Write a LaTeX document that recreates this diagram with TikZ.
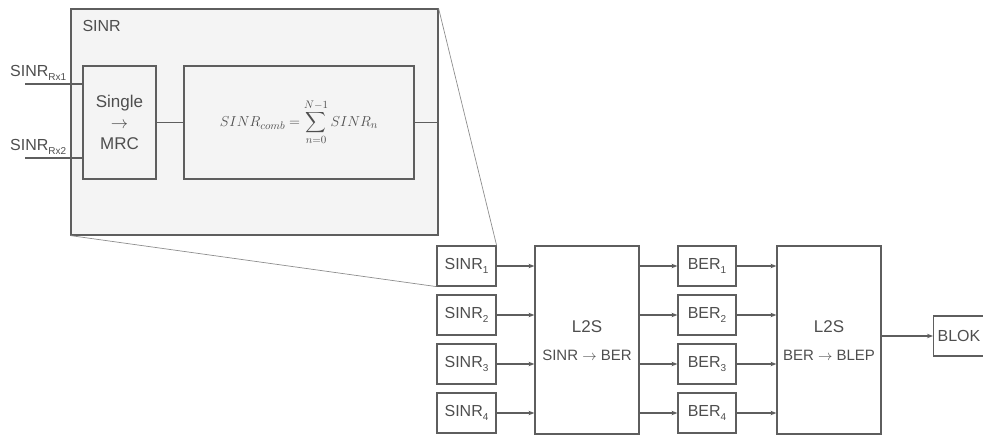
\documentclass[tikz,border=0pt]{standalone}
\usepackage{amsmath}
\usepackage[no-math]{fontspec}
\setmainfont{Liberation Sans}
\usetikzlibrary{arrows.meta}
\definecolor{ln}{HTML}{5E5E5E}
\definecolor{tx}{HTML}{4E4E4E}
\definecolor{bg}{HTML}{F4F4F4}
\newcommand\lsub[1]{\raisebox{-3.5pt}{\fontsize{10}{10}\selectfont #1}}
\begin{document}
\begin{tikzpicture}[x=1pt,y=-1pt,
  every node/.style={text=tx, font=\fontsize{16}{19}\selectfont},
  box/.style={draw=ln, line width=1.2pt, inner sep=0pt, align=center},
  small/.style={box, minimum height=40pt},
  wire/.style={draw=ln, line width=1.2pt},
  arr/.style={wire, -{Stealth[length=6pt,width=4.5pt]}},
  zoomline/.style={draw=ln!70, line width=0.7pt}]
\useasboundingbox (0,0) rectangle (983,435);
\clip (0,0) rectangle (983,435);
% zoomed SINR block
\node[box, fill=bg, minimum width=367pt, minimum height=226pt] (sinr) at (254.5,122) {};
\node[anchor=base west] (title) at (79,32) {SINR};
\node[box, fill=bg, minimum width=73pt, minimum height=113pt, font=\fontsize{17}{21}\selectfont] (mrc) at (119.5,122.5) {Single\\$\rightarrow$\\MRC};
\node[box, fill=bg, minimum width=230pt, minimum height=113pt, font=\fontsize{15}{18}\selectfont] (comb) at (299,122.5)
  {$\displaystyle SINR_{comb} = \sum_{n=0}^{N-1} SINR_n$};
\coordinate (in1) at (25,84);
\coordinate (in2) at (25,158);
\node[anchor=base west, inner sep=0pt] (lab1) at (10,77) {SINR\lsub{Rx1}};
\node[anchor=base west, inner sep=0pt] (lab2) at (10,151) {SINR\lsub{Rx2}};
\draw[wire] (in1) -- (in1 -| mrc.west);
\draw[wire] (in2) -- (in2 -| mrc.west);
\draw[wire] (mrc.east) -- (comb.west);
\draw[wire] (comb.east) -- (comb.east -| sinr.east);
% main chain
\foreach \i/\y in {1/266,2/315,3/364,4/413}{
  \node[small, minimum width=59pt] (s\i) at (466.5,\y) {SINR\lsub{\i}};
  \node[small, minimum width=58pt] (b\i) at (707,\y) {BER\lsub{\i}};
}
\node[box, minimum width=104pt, minimum height=188pt] (l1) at (587,340) {};
\node[box, minimum width=104pt, minimum height=188pt] (l2) at (829,340) {};
\node[font=\fontsize{17}{20}\selectfont] (l1a) at (587,327) {L2S};
\node[font=\fontsize{15}{18}\selectfont] (l1b) at (587,355) {SINR $\rightarrow$ BER};
\node[font=\fontsize{17}{20}\selectfont] (l2a) at (829,327) {L2S};
\node[font=\fontsize{15}{18}\selectfont] (l2b) at (829,355) {BER $\rightarrow$ BLEP};
\node[small, anchor=west, minimum width=70pt, text width=62pt, align=left] (blok) at (933,336) {BLOK};
\foreach \i in {1,...,4}{
  \draw[arr] (s\i.east) -- (s\i.east -| l1.west);
  \draw[arr] (b\i.west -| l1.east) -- (b\i.west);
  \draw[arr] (b\i.east) -- (b\i.east -| l2.west);
}
\draw[arr] (blok.west -| l2.east) -- (blok.west);
% zoom lines
\draw[zoomline] (sinr.north east) -- (s1.north east);
\draw[zoomline] (sinr.south west) -- (s1.south west);
\end{tikzpicture}
\end{document}
